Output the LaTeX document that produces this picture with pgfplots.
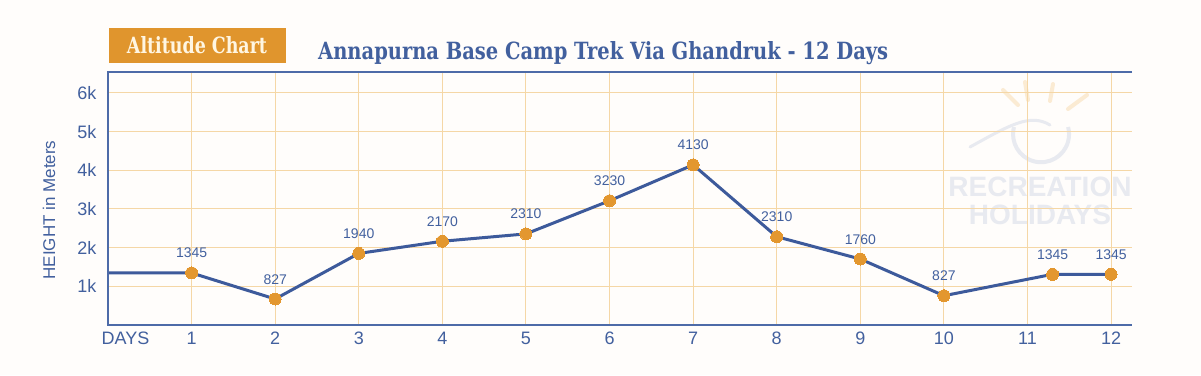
\documentclass[border=0pt]{standalone}
\usepackage{pgfplots}
\pgfplotsset{compat=1.18}
\usepackage{pgfplotstable}
\usepackage{fontspec}
\setmainfont{Liberation Sans}
\newfontfamily\titlefont{DejaVu Serif Condensed}
\definecolor{lineblue}{HTML}{3D5A9B}
\definecolor{textblue}{HTML}{42609E}
\definecolor{axisblue}{HTML}{4D6BA8}
\definecolor{dotorange}{HTML}{E3972F}
\definecolor{gridc}{HTML}{F5D7A6}
\definecolor{boxorange}{HTML}{E0952D}
\definecolor{cream}{HTML}{FFF6E2}
\definecolor{wmgray}{HTML}{E8EAF0}
\definecolor{wmsun}{HTML}{FBEBD3}
\definecolor{bg}{HTML}{FFFDFB}

\pgfplotstableread{
x y
0 1345
1 1345
2 672
3 1850
4 2165
5 2355
6 3212
7 4140
8 2282
9 1705
10 757
11.3 1310
12 1310
}\linetab

\pgfplotstableread{
x y lab
1 1345 1345
2 672 827
3 1850 1940
4 2165 2170
5 2355 2310
6 3212 3230
7 4140 4130
8 2282 2310
9 1705 1760
10 757 827
11.3 1310 1345
12 1310 1345
}\marktab

\begin{document}
\begin{tikzpicture}
\useasboundingbox (0pt,0pt) rectangle (1201pt,375pt);
\fill[bg] (0pt,0pt) rectangle (1201pt,375pt);
% watermark
\draw[wmsun, line width=4pt, line cap=round] (1003pt,285pt) -- (1018pt,270pt);
\draw[wmsun, line width=4pt, line cap=round] (1025pt,293pt) -- (1028pt,275pt);
\draw[wmsun, line width=4pt, line cap=round] (1053pt,291pt) -- (1050pt,274pt);
\draw[wmsun, line width=4pt, line cap=round] (1087pt,280pt) -- (1068pt,266pt);
\draw[wmgray, line width=4pt] (1014pt,248pt) arc[start angle=165, end angle=375, radius=28pt];
\draw[wmgray, line width=3pt, line cap=round] (970pt,228pt) .. controls (1010pt,250pt) and (1030pt,262pt) .. (1050pt,250pt);
\node[text=wmgray, font=\bfseries\fontsize{28}{28}\selectfont, inner sep=0pt] at (1040pt,188pt) {RECREATION};
\node[text=wmgray, font=\bfseries\fontsize{28}{28}\selectfont, inner sep=0pt] at (1040pt,160pt) {HOLIDAYS};
% header
\fill[boxorange] (109pt,312pt) rectangle (286pt,347pt);
\node[anchor=base, text=cream, inner sep=0pt] at (197pt,321pt) {\resizebox{140pt}{17pt}{\titlefont\bfseries Altitude Chart}};
\node[anchor=base west, text=textblue, inner sep=0pt] at (318pt,315pt) {\resizebox{570pt}{18pt}{\titlefont\bfseries Annapurna Base Camp Trek Via Ghandruk - 12 Days}};
\node[rotate=90, text=textblue, font=\fontsize{17}{17}\selectfont, inner sep=0pt] at (49pt,165pt) {HEIGHT in Meters};
\begin{axis}[
  at={(108pt,50pt)}, anchor=south west,
  scale only axis, width=1024pt, height=253pt,
  xmin=0, xmax=12.25, ymin=0, ymax=6540,
  axis line style={draw=none},
  xtick={1,2,...,12},
  extra x ticks={0.21}, extra x tick labels={DAYS},
  extra x tick style={grid=none},
  ytick={1000,2000,...,6000},
  yticklabels={1k,2k,3k,4k,5k,6k},
  /pgf/number format/assume math mode=true,
  grid=major,
  grid style={color=gridc, line width=1pt},
  major tick length=0pt,
  tick label style={font=\fontsize{18}{18}\selectfont, text=textblue},
  xticklabel style={anchor=base, yshift=-19pt},
  yticklabel style={xshift=-8pt},
  clip=false,
]
\addplot[color=lineblue, line width=3pt, line join=round] table[x=x,y=y]{\linetab};
\addplot[only marks, mark=*, mark size=6pt, mark options={fill=dotorange, draw=dotorange, line width=0pt},
  nodes near coords, point meta=explicit symbolic,
  nodes near coords style={font=\fontsize{14}{14}\selectfont, text=textblue, anchor=base, inner sep=0pt, yshift=15pt}]
  table[x=x,y=y,meta=lab]{\marktab};
\draw[axisblue, line width=1.3pt] (axis description cs:1,1) -- (axis description cs:0,1) -- (axis description cs:0,0) -- (axis description cs:1,0);
\end{axis}
\end{tikzpicture}
\end{document}
